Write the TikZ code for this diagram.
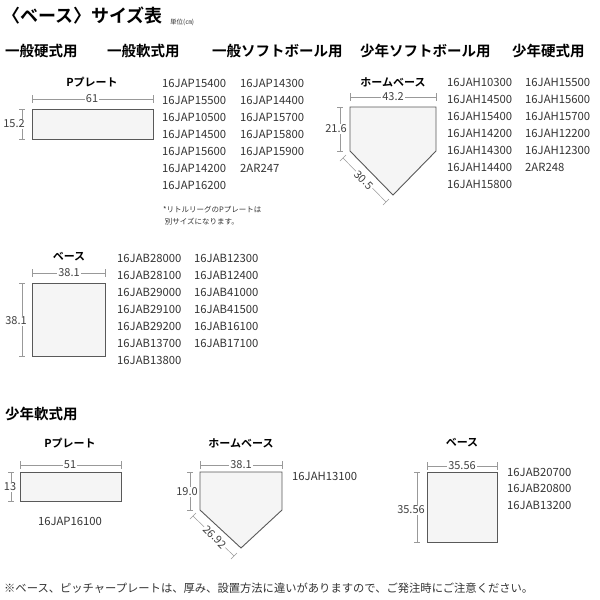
\documentclass[tikz,border=0pt]{standalone}
\usepackage{fontspec}
\setmainfont{Noto Sans CJK JP}
\newfontfamily\jpb{Noto Sans CJK JP Bold}
\begin{document}
\begin{tikzpicture}[x=1pt,y=-1pt,
  txt/.style={text=black!80,inner sep=0pt,font=\fontsize{11}{11}\selectfont},
  code/.style={txt,anchor=west,align=left,font=\fontsize{11.3}{17}\selectfont},
  hdr/.style={inner sep=0pt,anchor=west,font=\jpb\fontsize{14.5}{14.5}\selectfont},
  lbl/.style={inner sep=0pt,font=\jpb\fontsize{11}{11}\selectfont},
  shp/.style={draw=black!65,fill=black!4,line width=0.9pt},
  dim/.style={draw=black!40,line width=0.5pt},
  dl/.style={txt,fill=white,inner sep=1pt,text=black!75}]
\useasboundingbox (0,0) rectangle (600,600);
\fill[white] (0,0) rectangle (600,600);
\node[inner sep=0pt,anchor=west,font=\jpb\fontsize{18}{18}\selectfont] (title) at (2,16) {〈ベース〉サイズ表};
\node[txt,anchor=west,font=\fontsize{6.5}{6.5}\selectfont] (unit) at (170,22) {単位(㎝)};
\node[hdr] (h1) at (5,51) {一般硬式用};
\node[hdr] (h2) at (107,51) {一般軟式用};
\node[hdr] (h3) at (212,51) {一般ソフトボール用};
\node[hdr] (h4) at (360,51) {少年ソフトボール用};
\node[hdr] (h5) at (512,51) {少年硬式用};
% P plate
\node[lbl] (pl) at (92,82) {Pプレート};
\draw[dim] (32,95)--(32,103) (153,95)--(153,103) (32,99)--(153,99);
\node[dl] (p61) at (92,99) {61};
\draw[shp] (32,109) rectangle (153,139);
\draw[dim] (19,109)--(25,109) (19,139)--(25,139) (22,109)--(22,139);
\node[dl] (p152) at (14,124) {15.2};
\node[code,anchor=north west] (c1) at (162,79) {16JAP15400\\16JAP15500\\16JAP10500\\16JAP14500\\16JAP15600\\16JAP14200\\16JAP16200};
\node[code,anchor=north west] (c2) at (240,79) {16JAP14300\\16JAP14400\\16JAP15700\\16JAP15800\\16JAP15900\\2AR247};
\node[txt,anchor=north west,align=left,font=\fontsize{7.5}{12}\selectfont] (note) at (163,206) {*リトルリーグのPプレートは\\\ 別サイズになります。};
% home plate
\node[lbl] (hl) at (393,82) {ホームベース};
\draw[dim] (350,93)--(350,101) (436,93)--(436,101) (350,97)--(436,97);
\node[dl] (h432) at (393,97) {43.2};
\draw[shp] (350,107)--(436,107)--(436,151)--(393,195)--(350,151)--cycle;
\draw[dim] (337,107)--(343,107) (337,151)--(343,151) (340,107)--(340,151);
\node[dl] (h216) at (336,129) {21.6};
\draw[dim] (343,158)--(386,202) (340,161)--(346,155) (383,205)--(389,199);
\node[dl,rotate=-45] (h305) at (364,180) {30.5};
\node[code,anchor=north west] (c3) at (447,78) {16JAH10300\\16JAH14500\\16JAH15400\\16JAH14200\\16JAH14300\\16JAH14400\\16JAH15800};
\node[code,anchor=north west] (c4) at (525,78) {16JAH15500\\16JAH15600\\16JAH15700\\16JAH12200\\16JAH12300\\2AR248};
% base
\node[lbl] (bl) at (69,257) {ベース};
\draw[dim] (32,269)--(32,277) (105,269)--(105,277) (32,273)--(105,273);
\node[dl] (b381) at (69,273) {38.1};
\draw[shp] (32,283) rectangle (105,356);
\draw[dim] (19,283)--(25,283) (19,356)--(25,356) (22,283)--(22,356);
\node[dl] (b381v) at (16,321) {38.1};
\node[code,anchor=north west] (c5) at (117,254) {16JAB28000\\16JAB28100\\16JAB29000\\16JAB29100\\16JAB29200\\16JAB13700\\16JAB13800};
\node[code,anchor=north west] (c6) at (194,254) {16JAB12300\\16JAB12400\\16JAB41000\\16JAB41500\\16JAB16100\\16JAB17100};
% junior soft
\node[hdr] (h6) at (5,414) {少年軟式用};
\node[lbl] (pl2) at (70,443) {Pプレート};
\draw[dim] (20,461)--(20,469) (121,461)--(121,469) (20,465)--(121,465);
\node[dl] (p51) at (70,465) {51};
\draw[shp] (20,472) rectangle (121,501);
\draw[dim] (8,472)--(14,472) (8,501)--(14,501) (11,472)--(11,501);
\node[dl] (p13) at (10,487) {13};
\node[txt] (c7) at (70,521) {\fontsize{11.3}{11}\selectfont 16JAP16100};
\node[lbl] (hl2) at (241,443) {ホームベース};
\draw[dim] (200,461)--(200,469) (282,461)--(282,469) (200,465)--(282,465);
\node[dl] (h381) at (241,465) {38.1};
\draw[shp] (200,472)--(282,472)--(282,510)--(241,548)--(200,510)--cycle;
\draw[dim] (187,472)--(193,472) (187,510)--(193,510) (190,472)--(190,510);
\node[dl] (h190) at (187,492) {19.0};
\draw[dim] (193,516)--(234,556) (190,519)--(196,513) (231,559)--(237,553);
\node[dl,rotate=-45] (h2692) at (215,537) {26.92};
\node[txt,anchor=west] (c8) at (292,476) {\fontsize{11.3}{11}\selectfont 16JAH13100};
\node[lbl] (bl2) at (462,443) {ベース};
\draw[dim] (427,462)--(427,470) (497,462)--(497,470) (427,466)--(497,466);
\node[dl] (b3556) at (462,466) {35.56};
\draw[shp] (427,472) rectangle (497,542);
\draw[dim] (414,472)--(420,472) (414,542)--(420,542) (417,472)--(417,542);
\node[dl] (b3556v) at (411,510) {35.56};
\node[code,anchor=north west,font=\fontsize{11.3}{16.5}\selectfont] (c9) at (507,468) {16JAB20700\\16JAB20800\\16JAB13200};
\node[txt,anchor=west,font=\fontsize{11.3}{11}\selectfont] (foot) at (4,588) {※ベース、ピッチャープレートは、厚み、設置方法に違いがありますので、ご発注時にご注意ください。};
\end{tikzpicture}
\end{document}
